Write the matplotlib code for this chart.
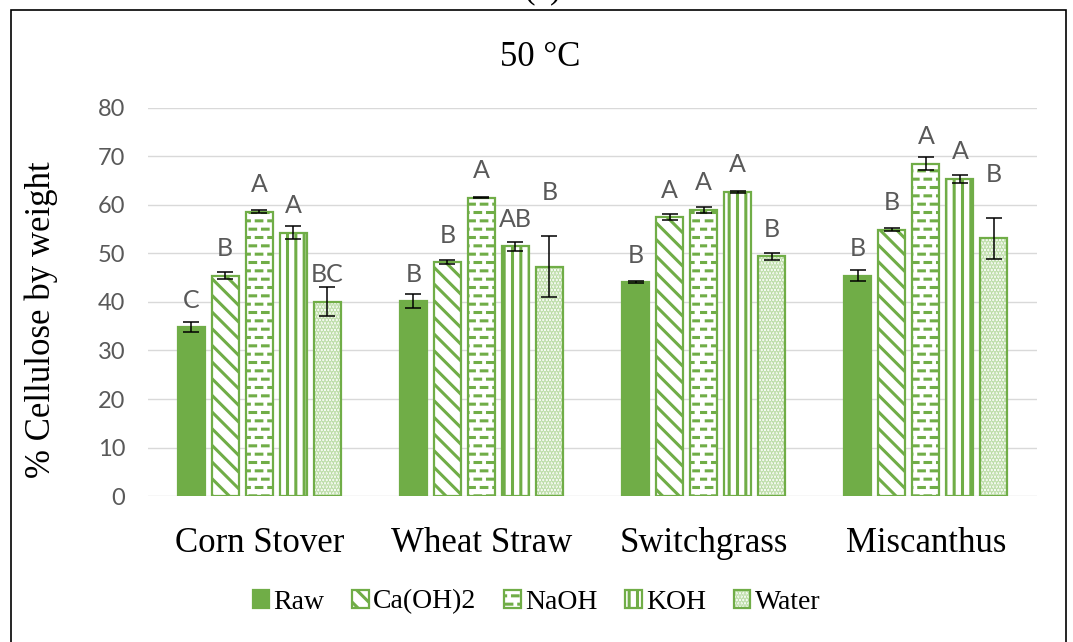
import numpy as np
import matplotlib
matplotlib.use('Agg')
import matplotlib.pyplot as plt
import matplotlib.hatch as mhatch
from matplotlib.path import Path
from matplotlib.patches import Rectangle

categories = ['Corn Stover', 'Wheat Straw', 'Switchgrass', 'Miscanthus']
treatments = ['Raw', 'Ca(OH)2', 'NaOH', 'KOH', 'Water']

# mean % cellulose per treatment
raw = [34.8, 40.2, 44.1, 45.4]
caoh2 = [45.4, 48.2, 57.5, 54.9]
naoh = [58.6, 61.5, 59.0, 68.5]
koh = [54.3, 51.5, 62.7, 65.4]
water = [40.1, 47.3, 49.4, 53.1]

# standard deviations
raw_err = [1.0, 1.45, 0.15, 1.1]
caoh2_err = [0.7, 0.4, 0.55, 0.3]
naoh_err = [0.3, 0.15, 0.55, 1.3]
koh_err = [1.3, 0.9, 0.15, 0.85]
water_err = [3.0, 6.3, 0.8, 4.3]

# significance groups
raw_lbl = ['C', 'B', 'B', 'B']
caoh2_lbl = ['B', 'B', 'A', 'B']
naoh_lbl = ['A', 'A', 'A', 'A']
koh_lbl = ['A', 'AB', 'A', 'A']
water_lbl = ['BC', 'B', 'B', 'B']


# '-' hatch drawn as short staggered dashes (brick-like pattern)
class DashedHorizontal(mhatch.HatchPatternBase):
    def __init__(self, hatch, density):
        self.num_lines = int((hatch.count('-') + hatch.count('+')) * density)
        self.num_dashes = 8
        self.num_vertices = self.num_lines * self.num_dashes * 2

    def set_vertices_and_codes(self, vertices, codes):
        step = 1.0 / self.num_lines
        dash = 1.0 / self.num_dashes
        k = 0
        for i in range(self.num_lines):
            y = (i + 0.5) * step
            shift = 0.5 * dash if i % 2 else 0.0
            for j in range(self.num_dashes):
                x0 = j * dash + shift
                vertices[k] = (x0, y)
                vertices[k + 1] = (x0 + 0.45 * dash, y)
                codes[k] = Path.MOVETO
                codes[k + 1] = Path.LINETO
                k += 2


mhatch._hatch_types[mhatch._hatch_types.index(mhatch.HorizontalHatch)] = DashedHorizontal

plt.rcParams['hatch.linewidth'] = 2.2

green = '#70ad47'
light_green = '#b9dba3'
grey_txt = '#595959'
serif = 'Liberation Serif'
sans = 'Lato'

fig = plt.figure(figsize=(10.73, 6.42), dpi=100)
ax = fig.add_axes([0.138, 0.2274, 0.8285, 0.6044])

values = [raw, caoh2, naoh, koh, water]
errors = [raw_err, caoh2_err, naoh_err, koh_err, water_err]
letters = [raw_lbl, caoh2_lbl, naoh_lbl, koh_lbl, water_lbl]
hatches = [None, '\\\\', '--', '||', None]
faces = [green, 'white', 'white', 'white', 'white']

x = np.arange(len(categories))
pitch = 0.153
width = 0.1215

handles = []
for i in range(5):
    pos = x + (i - 2) * pitch
    if treatments[i] == 'Water':
        # fine light dots underneath, solid green outline on top
        dots = ax.bar(pos, values[i], width, color='white', edgecolor=light_green,
                      linewidth=0, hatch='.....', zorder=3)
        b = ax.bar(pos, values[i], width, fill=False, edgecolor=green,
                   linewidth=1.6, zorder=3)
        handles.append((dots, b))
    else:
        b = ax.bar(pos, values[i], width, color=faces[i], edgecolor=green,
                   linewidth=1.6, hatch=hatches[i], zorder=3)
        handles.append(b)
    ax.errorbar(pos, values[i], yerr=errors[i], fmt='none', ecolor='black',
                elinewidth=1.1, capsize=6, capthick=1.1, zorder=4)
    for xp, v, e, t in zip(pos, values[i], errors[i], letters[i]):
        # big error bars push the letter above the whisker
        yt = v + e + 7.4 if e > 4 else v + 4.0
        ax.text(xp, yt, t, ha='center', va='baseline', fontsize=18,
                color=grey_txt, family=sans, zorder=5)

ax.set_ylim(0, 80)
ax.set_xlim(-0.5, 3.5)
ax.set_yticks(range(0, 81, 10))
ax.grid(axis='y', color='#d9d9d9', linewidth=1.0, zorder=0)
ax.set_axisbelow(True)
for s in ax.spines.values():
    s.set_visible(False)
ax.tick_params(axis='both', length=0)
ax.tick_params(axis='y', labelsize=17, labelcolor=grey_txt, pad=16.5)
for lab in ax.get_yticklabels():
    lab.set_family(sans)
ax.set_xticks(x)
ax.set_xticklabels(categories, family=serif, fontsize=25, color='black')
ax.tick_params(axis='x', pad=22)

ax.set_ylabel('% Cellulose by weight', family=serif, fontsize=25, color='black')
ax.yaxis.set_label_coords(-0.101, 0.454)

fig.text(0.503, (642 - 66) / 642, '50 °C', ha='center', va='baseline',
         family=serif, fontsize=25)
fig.text(0.506, 1 + 3 / 642, '(a)', ha='center', va='baseline',
         family=serif, fontsize=25)

leg = fig.legend(handles=handles, labels=treatments, loc='center',
                 bbox_to_anchor=(0.5, (642 - 602) / 642),
                 ncol=5, frameon=False, handlelength=0.6, handleheight=0.6,
                 handletextpad=0.15, columnspacing=1.0,
                 prop={'family': serif, 'size': 20})

# outer frame around the chart
fig.patches.append(Rectangle((11 / 1073, -0.02), (1066 - 11) / 1073, (642 - 10) / 642 + 0.02,
                             transform=fig.transFigure, fill=False,
                             edgecolor='black', linewidth=1.2, zorder=10))

fig.savefig('out.png', dpi=100)
